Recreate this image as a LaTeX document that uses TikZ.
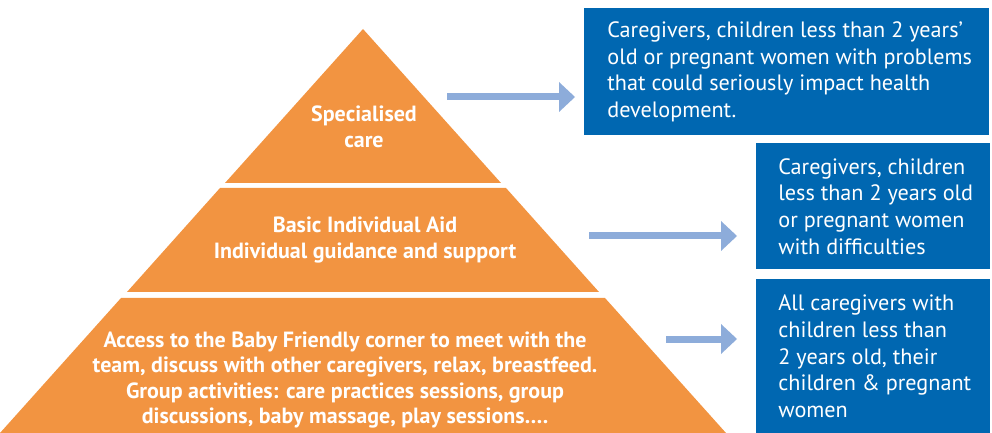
\documentclass[tikz,border=0pt]{standalone}
\usepackage{fontspec}
\setmainfont{PT Sans}
\usetikzlibrary{arrows.meta}
\definecolor{tierorange}{HTML}{F29441}
\definecolor{boxblue}{HTML}{0067B1}
\definecolor{arrowblue}{HTML}{8DACDA}
\tikzset{
  tier/.style={fill=tierorange},
  tiertext/.style={text=white, font=\bfseries\fontsize{11}{12.75}\selectfont, align=center, inner sep=0pt},
  infobox/.style={fill=boxblue, anchor=north west, inner sep=0pt},
  boxtext/.style={text=white, anchor=west, align=left, inner sep=0pt, font=\fontsize{11.1}{13.35}\selectfont},
  levelarrow/.style={draw=arrowblue, line width=3.5pt, -{Triangle[length=8pt, width=15pt, line width=0pt]}},
}
\begin{document}
\begin{tikzpicture}[x=0.5pt, y=-0.5pt]
    \useasboundingbox (0,0) rectangle (992,433);
    \fill[tier] (363,29) -- (501,183) -- (225,183) --cycle;
    \fill[tier] (220,188) -- (506,188) -- (599,292) -- (127,292) --cycle;
    \fill[tier] (121,298) -- (605,298) -- (726,433) -- (0,433) --cycle;
    \node[tiertext] (spec) at (364,127) {Specialised\\care};
    \node[tiertext] (basic) at (365,240) {Basic Individual Aid\\Individual guidance and support};
    \node[tiertext] (access) at (345,380) {Access to the Baby Friendly corner to meet with the\\team, discuss with other caregivers, relax, breastfeed.\\Group activities: care practices sessions, group\\discussions, baby massage, play sessions\dots.};
    \node[infobox, minimum width=202.5pt, minimum height=63.5pt] (specbox) at (584,8) {};
    \node[infobox, minimum width=117pt, minimum height=63pt] (basicbox) at (756,143) {};
    \node[infobox, minimum width=117pt, minimum height=77pt] (accessbox) at (756,279) {};
    \node[boxtext] (spectext) at ([xshift=11.5pt]specbox.west) {Caregivers, children less than 2 years’\\old or pregnant women with problems\\that could seriously impact health\\development.};
    \node[boxtext] (basictext) at ([xshift=11pt]basicbox.west) {Caregivers, children\\less than 2 years old\\or pregnant women\\with difficulties};
    \node[boxtext] (accesstext) at ([xshift=11pt]accessbox.west) {All caregivers with\\children less than\\2 years old, their\\children \& pregnant\\women};
    \coordinate (specfrom) at (447,97);
    \coordinate (basicfrom) at (589,236);
    \coordinate (accessfrom) at (666,339);
    \draw[levelarrow, shorten >=4.5pt] (specfrom) -- (specfrom -| specbox.west);
    \draw[levelarrow, shorten >=9.5pt] (basicfrom) -- (basicfrom -| basicbox.west);
    \draw[levelarrow, shorten >=9.5pt] (accessfrom) -- (accessfrom -| accessbox.west);
\end{tikzpicture}
\end{document}
